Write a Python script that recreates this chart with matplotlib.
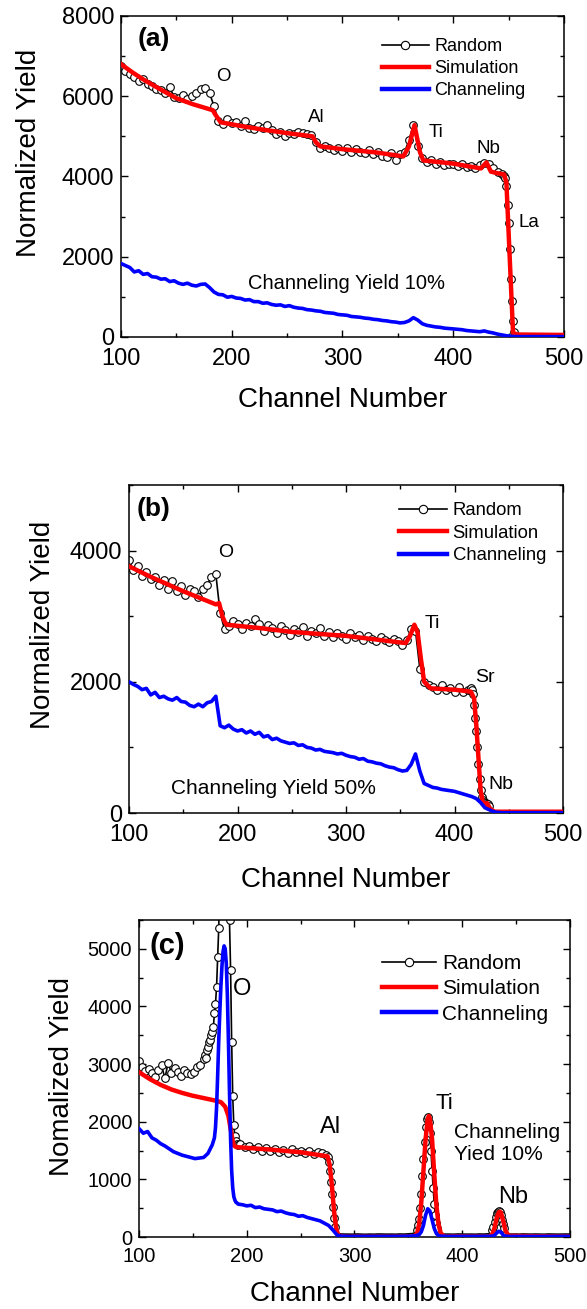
import numpy as np
import matplotlib
matplotlib.use("Agg")
import matplotlib.pyplot as plt
from matplotlib.lines import Line2D
from matplotlib.ticker import MultipleLocator

plt.rcParams["font.family"] = ["Liberation Sans", "DejaVu Sans"]

# ---------------- panel (a) ----------------
ch_rand_a = list(range(100, 446, 4)) + list(range(446, 457)) + list(range(460, 501, 4))
rand_a = [6750, 6620, 6550, 6480, 6380, 6420, 6300, 6250, 6180, 6150,
          6080, 6220, 5980, 5950, 6020, 5930, 6000, 6080, 6180, 6200,
          6080, 5750, 5380, 5300, 5420, 5320, 5350, 5250, 5380, 5220,
          5180, 5250, 5200, 5280, 5150, 5060, 5120, 5000, 5080, 5050,
          5120, 5080, 5060, 5030, 4850, 4700, 4760, 4720, 4660, 4700,
          4640, 4700, 4600, 4680, 4620, 4580, 4650, 4560, 4600, 4520,
          4480, 4580, 4420, 4560, 4600, 4900, 5280, 4750, 4450, 4350,
          4400, 4300, 4350, 4280, 4320, 4300, 4260, 4300, 4240, 4260,
          4200, 4280, 4330, 4300, 4200, 4120, 4060,
          4020, 3950, 3750, 3300, 2850, 2200, 1450, 900, 400, 130, 80,
          60, 55, 62, 58, 50, 55, 60, 52, 58, 55, 60]

sim_a_x = [100, 110, 120, 135, 150, 165, 183, 185, 190, 210, 230, 250, 273, 276, 280, 300,
           330, 355, 360, 365, 370, 373, 400, 425, 430, 434, 440, 446, 448, 454, 458, 500]
sim_a_y = [6800, 6600, 6420, 6180, 5950, 5800, 5650, 5550, 5350, 5250, 5160, 5080, 5000, 4850, 4750, 4680,
           4600, 4500, 4750, 5280, 4600, 4400, 4320, 4200, 4350, 4120, 4080, 4050, 3850, 100, 60, 50]

ch_chan_a = list(range(100, 501, 4))
chan_a = [1830, 1780, 1730, 1620, 1650, 1560, 1580, 1500, 1490, 1440,
          1450, 1380, 1400, 1340, 1310, 1340, 1290, 1270, 1310, 1320,
          1230, 1120, 1060, 1050, 990, 1010, 970, 960, 920, 930,
          880, 880, 840, 850, 810, 790, 800, 760, 780, 740,
          720, 710, 680, 670, 650, 640, 610, 600, 590, 560,
          550, 540, 510, 500, 490, 470, 460, 440, 430, 410,
          400, 380, 370, 350, 360, 400, 480, 420, 330, 290,
          270, 250, 240, 220, 210, 200, 190, 180, 160, 150,
          140, 130, 150, 120, 100, 70, 50, 30, 15, 10,
          8, 8, 8, 8, 8, 8, 8, 8, 8, 8, 8]

# ---------------- panel (b) ----------------
ch_rand_b = list(range(100, 414, 4)) + list(range(414, 438)) + list(range(440, 501, 4))
rand_b = [3850, 3700, 3760, 3620, 3680, 3560, 3600, 3480, 3550, 3420,
          3540, 3380, 3460, 3330, 3420, 3380, 3300, 3420, 3480, 3600,
          3640, 3050, 2800, 2850, 2920, 2880, 2800, 2900, 2850, 2950,
          2880, 2780, 2860, 2820, 2750, 2850, 2790, 2720, 2810, 2760,
          2830, 2700, 2780, 2740, 2820, 2700, 2760, 2680, 2740, 2700,
          2660, 2750, 2680, 2720, 2640, 2700, 2660, 2620, 2680, 2640,
          2600, 2660, 2620, 2560, 2640, 2800, 2780, 2200, 2000, 1950,
          1920, 1880, 1950, 1870, 1900, 1850, 1920, 1840, 1880,
          1870, 1900, 1880, 1820, 1650, 1450, 1250, 1000, 750, 520, 350, 250,
          200, 170, 160, 150, 140, 130, 110, 80, 55, 40, 30, 25,
          25, 22, 28, 20, 24, 26, 20, 22, 25, 21, 24, 20, 23, 22, 20, 22]

sim_b_x = [100, 120, 150, 180, 183, 186, 188, 190, 220, 250, 300, 355, 359, 363, 366,
           369, 372, 378, 400, 415, 418, 420, 422, 424, 426, 428, 430, 433, 437, 500]
sim_b_y = [3760, 3600, 3380, 3180, 3200, 3000, 2920, 2870, 2820, 2760, 2700, 2590, 2700, 2870, 2750,
           2350, 2000, 1900, 1880, 1850, 1750, 1350, 850, 350, 170, 130, 150, 60, 20, 20]

ch_chan_b = list(range(100, 501, 4))
chan_b = [2000, 1960, 1930, 1880, 1900, 1800, 1840, 1760, 1780, 1740,
          1720, 1760, 1700, 1690, 1640, 1620, 1660, 1620, 1680, 1700,
          1780, 1330, 1300, 1340, 1280, 1250, 1270, 1220, 1250, 1200,
          1230, 1160, 1180, 1120, 1140, 1100, 1080, 1060, 1070, 1030,
          1040, 1000, 990, 960, 970, 940, 930, 920, 900, 910,
          880, 860, 850, 820, 830, 790, 780, 760, 750, 720,
          700, 690, 660, 640, 650, 740, 900, 640, 450, 420,
          390, 380, 360, 350, 340, 330, 310, 290, 270, 250,
          220, 160, 80, 50, 20, 8, 5, 5, 5, 5,
          5, 5, 5, 5, 5, 5, 5, 5, 5, 5, 5]

# ---------------- panel (c) ----------------
ch_rand_c = (list(range(100, 160, 3)) + list(range(160, 193)) + list(range(194, 275, 4))
             + list(range(275, 291)) + list(range(294, 355, 4)) + list(range(356, 385))
             + list(range(388, 425, 4)) + list(range(426, 445)) + list(range(448, 501, 4)))
rand_c = [3050, 2950, 2880, 2920, 2850, 2780, 2900, 2980, 2750, 3020,
          2850, 2930, 2860, 2800, 2900, 2850, 2820, 2870, 2950, 2980,
          3080, 3150, 3100, 3250, 3300, 3380, 3420, 3500, 3550, 3640,
          3880, 4050, 4340, 4860, 5360, 6300, 7300, 8200, 8800, 9000,
          8900, 8400, 7500, 6300, 5500, 4640, 3380, 2440, 1940, 1750,
          1660, 1620, 1600,
          1620, 1560, 1580, 1530, 1570, 1500, 1540, 1490, 1530, 1480,
          1510, 1460, 1520, 1470, 1500, 1450, 1490, 1440, 1480, 1450, 1420,
          1380, 1300, 1150, 950, 750, 520, 330, 180, 100, 70, 60, 55, 55, 50, 52, 50,
          50, 48, 52, 50, 47, 50, 48, 52, 50, 49, 50, 48, 52, 50, 55, 60,
          70, 90, 130, 200, 320, 500, 750, 1050, 1350, 1650,
          1900, 2050, 2080, 2000, 1800, 1500, 1150, 850, 580, 380,
          240, 150, 100, 75, 60, 55, 52, 50, 50,
          50, 48, 52, 50, 49, 50, 48, 52, 50, 55,
          60, 80, 120, 180, 260, 340, 410, 440, 450, 430,
          380, 300, 220, 150, 100, 70, 60, 55, 50,
          50, 48, 52, 50, 49, 51, 50, 48, 52, 50, 49, 50, 51, 50]

sim_c_x = [100, 110, 120, 130, 140, 150, 160, 170, 176, 180, 183, 185, 187, 188, 190, 220, 250,
           275, 277, 279, 281, 283, 285, 290, 355, 358, 360, 362, 364, 366, 368, 369, 370, 372,
           374, 376, 378, 380, 383, 425, 428, 430, 432, 434, 435, 436, 438, 440, 443, 500]
sim_c_y = [2860, 2740, 2640, 2560, 2500, 2450, 2410, 2370, 2340, 2260, 2100, 1880, 1660, 1590, 1560, 1520, 1470,
           1400, 1250, 900, 450, 150, 30, 5, 5, 60, 220, 600, 1150, 1700, 2050, 2100, 2050, 1700,
           1100, 550, 220, 70, 10, 5, 50, 160, 330, 430, 440, 420, 280, 120, 20, 5]

ch_chan_c = (list(range(100, 170, 4)) + list(range(170, 192)) + list(range(192, 360, 4))
             + list(range(360, 380, 2)) + list(range(380, 430, 4)) + list(range(430, 442, 2))
             + list(range(444, 501, 4)))
chan_c = [1880, 1800, 1830, 1720, 1680, 1620, 1580, 1530, 1480, 1450,
          1420, 1400, 1380, 1360, 1370, 1380, 1450, 1600,
          1720, 1900, 2250, 2800, 3400, 3900, 4350, 4700, 4950, 5050,
          5000, 4750, 4200, 3400, 2500, 1700, 1150, 850, 700, 640, 600, 590,
          570, 560, 540, 550, 510, 520, 490, 480, 470, 440,
          450, 420, 400, 390, 360, 370, 340, 320, 300, 280,
          240, 200, 120, 30, 15, 12, 10, 10, 10, 10,
          10, 10, 10, 10, 10, 10, 10, 10, 12, 12, 15, 20,
          40, 90, 200, 380, 490, 450, 300, 150, 60, 25,
          15, 12, 10, 10, 10, 10, 10, 10, 10, 10, 10, 12, 15,
          30, 70, 100, 80, 35, 15,
          10, 10, 10, 10, 10, 10, 10, 10, 10, 10, 10, 10, 10, 10, 10]

legend_labels = ["Random", "Simulation", "Channeling"]

fig = plt.figure(figsize=(5.87, 13.09), dpi=100)


def style_axes(ax, ymax, ymajor, yminor, labelsize, xpad):
    ax.set_xlim(100, 500)
    ax.set_ylim(0, ymax)
    ax.xaxis.set_major_locator(MultipleLocator(100))
    ax.xaxis.set_minor_locator(MultipleLocator(50))
    ax.yaxis.set_major_locator(MultipleLocator(ymajor))
    ax.yaxis.set_minor_locator(MultipleLocator(yminor))
    ax.tick_params(which="both", direction="in", top=True, right=True, width=1)
    ax.tick_params(which="major", length=5, labelsize=labelsize)
    ax.tick_params(axis="x", which="major", pad=xpad)
    ax.tick_params(axis="y", which="major", pad=5)
    ax.tick_params(which="minor", length=3)
    for s in ax.spines.values():
        s.set_linewidth(1.1)


def draw_data(ax, ch_r, r, sx, sy, ch_c, c):
    ch_r = np.array(ch_r)
    r = np.array(r)
    ax.plot(ch_r, r, color="black", lw=1.2, zorder=2)
    keep = r > 100
    ax.plot(ch_r[keep], r[keep], "o", ms=5.5, mfc="white", mec="black", mew=0.8, zorder=2)
    ax.plot(sx, sy, color="red", lw=3.2, zorder=3)
    ax.plot(ch_c, c, color="blue", lw=2.6, zorder=4)


def add_legend(ax, anchor, fs, spacing):
    handles = [Line2D([], [], color="black", lw=1.2, marker="o", ms=6, mfc="white", mec="black", mew=0.8),
               Line2D([], [], color="red", lw=3.2),
               Line2D([], [], color="blue", lw=3.2)]
    ax.legend(handles, legend_labels, loc="upper left", bbox_to_anchor=anchor, frameon=False,
              fontsize=fs, handlelength=2.6, handletextpad=0.3, labelspacing=spacing,
              borderpad=0, borderaxespad=0, numpoints=1)


# (a)
ax = fig.add_axes([0.2061, 0.7426, 0.7547, 0.2452])
draw_data(ax, ch_rand_a, rand_a, sim_a_x, sim_a_y, ch_chan_a, chan_a)
style_axes(ax, 8000, 2000, 1000, 17, 8)
add_legend(ax, (0.589, 0.930), 13, 0.27)
ax.set_xlabel("Channel Number", fontsize=20, va="baseline")
ax.xaxis.set_label_coords(0.5, -0.218)
ax.set_ylabel("Normalized Yield", fontsize=20, va="baseline")
ax.yaxis.set_label_coords(-0.192, 0.573)
ax.text(130, 7430, "(a)", fontsize=19, fontweight="bold", ha="center", va="center")
for t, x, y in zip(["O", "Al", "Ti", "Nb", "La"], [192.6, 276.7, 384, 432, 468],
                   [6480, 5460, 5090, 4690, 2850]):
    ax.text(x, y, t, fontsize=13.5, ha="center", va="center")
ax.text(304, 1340, "Channeling Yield 10%", fontsize=14.5, ha="center", va="center")

# (b)
ax = fig.add_axes([0.2198, 0.3789, 0.7394, 0.2506])
draw_data(ax, ch_rand_b, rand_b, sim_b_x, sim_b_y, ch_chan_b, chan_b)
style_axes(ax, 5000, 2000, 1000, 17, 8)
add_legend(ax, (0.622, 0.947), 13.3, 0.29)
ax.set_xlabel("Channel Number", fontsize=20, va="baseline")
ax.xaxis.set_label_coords(0.499, -0.226)
ax.set_ylabel("Normalized Yield", fontsize=20, va="baseline")
ax.yaxis.set_label_coords(-0.181, 0.573)
ax.text(123, 4640, "(b)", fontsize=19, fontweight="bold", ha="center", va="center")
for t, x, y in zip(["O", "Ti", "Sr", "Nb"], [188.8, 379.8, 428, 442.6], [3970, 2885, 2060, 440]):
    ax.text(x, y, t, fontsize=14, ha="center", va="center")
ax.text(233, 380, "Channeling Yield 50%", fontsize=15, ha="center", va="center")

# (c)
ax = fig.add_axes([0.2368, 0.0550, 0.7342, 0.2422])
draw_data(ax, ch_rand_c, rand_c, sim_c_x, sim_c_y, ch_chan_c, chan_c)
style_axes(ax, 5500, 1000, 500, 14.5, 7)
add_legend(ax, (0.564, 0.892), 15, 0.30)
ax.set_xlabel("Channel Number", fontsize=20, va="baseline")
ax.xaxis.set_label_coords(0.501, -0.202)
ax.set_ylabel("Nomalized Yield", fontsize=20, va="baseline")
ax.yaxis.set_label_coords(-0.162, 0.505)
ax.text(126.7, 5050, "(c)", fontsize=21, fontweight="bold", ha="center", va="center")
for t, x, y, fs in zip(["O", "Al", "Ti", "Nb"], [195.5, 277.8, 383, 447], [4310, 1900, 2320, 690],
                       [17, 17, 16, 17]):
    ax.text(x, y, t, fontsize=fs, ha="center", va="center")
ax.text(392, 1630, "Channeling\nYied 10%", fontsize=15, ha="left", va="center")

fig.savefig("out.png", dpi=100)
